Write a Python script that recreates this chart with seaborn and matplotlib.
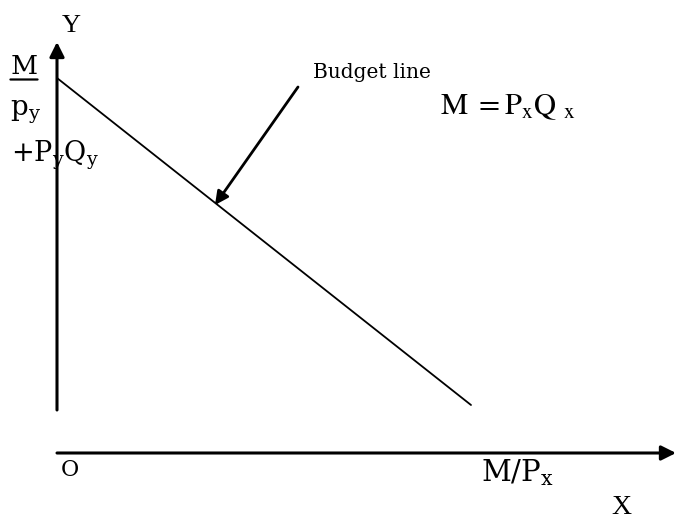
import matplotlib
matplotlib.use("Agg")
import matplotlib.pyplot as plt
import seaborn as sns
import pandas as pd

# diagram values, origin O = (0, 0), one unit ~ one pixel
budget_x = [0, 414]
budget_y = [375, 48]
y_axis = [43, 411]      # bottom, top of the Y axis
x_axis_end = 619
pointer_from = (241, 366)
pointer_to = (158, 248)

sns.set_theme(style="white")
plt.rcParams["font.family"] = ["DejaVu Serif"]
plt.rcParams["mathtext.fontset"] = "stix"
plt.rcParams["text.color"] = "black"

fig = plt.figure(figsize=(6.76, 5.2), dpi=100)
ax = fig.add_axes([0, 0, 1, 1])
ax.set_xlim(-57, 619)
ax.set_ylim(-67, 453)
ax.axis("off")

df = pd.DataFrame({"x": budget_x, "y": budget_y})
sns.lineplot(data=df, x="x", y="y", color="black", linewidth=1.3, ax=ax)

# axes with arrow heads
ax.annotate("", xy=(0, y_axis[1]), xytext=(0, y_axis[0]),
            arrowprops=dict(arrowstyle="-|>", color="black", lw=2.2,
                            mutation_scale=22, shrinkA=0, shrinkB=0))
ax.annotate("", xy=(x_axis_end, 0), xytext=(0, 0),
            arrowprops=dict(arrowstyle="-|>", color="black", lw=2.2,
                            mutation_scale=22, shrinkA=0, shrinkB=0))
ax.annotate("", xy=pointer_to, xytext=pointer_from,
            arrowprops=dict(arrowstyle="-|>", color="black", lw=2.0,
                            mutation_scale=20, shrinkA=0, shrinkB=0))

serif = ["Liberation Serif", "DejaVu Serif"]
dv = "dejavuserif"

ax.text(14, 427, "Y", fontsize=19, family=serif, ha="center", va="center")
ax.text(13, -17, "O", fontsize=16, ha="center", va="center")
ax.text(564, -55, "X", fontsize=20, family=serif, ha="center", va="center")
ax.text(460, -20, r"$\mathrm{M/P_x}$", fontsize=21, math_fontfamily=dv,
        ha="center", va="center")

m_txt = ax.text(-33, 386, "M", fontsize=19, ha="center", va="center")
ax.annotate("", xy=(1, 0.0), xycoords=m_txt, xytext=(0, 0.0), textcoords=m_txt,
            arrowprops=dict(arrowstyle="-", color="black", lw=1.6,
                            shrinkA=0, shrinkB=0))
ax.text(-32, 341, r"$\mathrm{p_y}$", fontsize=20, math_fontfamily=dv,
        ha="center", va="center")
ax.text(-46, 298, r"$\mathrm{+P_yQ_y}$", fontsize=19.5, math_fontfamily=dv,
        ha="left", va="center")
ax.text(256, 380, "Budget line", fontsize=14.5, ha="left", va="center")
ax.text(383, 347, r"$\mathrm{M\ =P_xQ\ _x}$", fontsize=22, ha="left", va="center")

fig.savefig("out.png", dpi=100)
